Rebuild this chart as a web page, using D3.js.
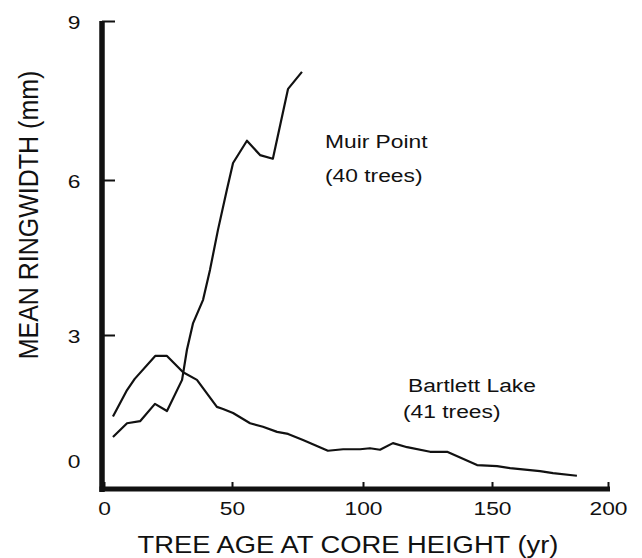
<!DOCTYPE html>
<html>
<head>
<meta charset="utf-8">
<script src="https://cdn.jsdelivr.net/npm/d3@7/dist/d3.min.js"></script>
<style>
  html, body { margin: 0; padding: 0; background: #fff; }
  svg { display: block; }
  text { font-family: "Liberation Sans", Arial, Helvetica, sans-serif; fill: #111; }
</style>
</head>
<body>
<svg id="chart" width="642" height="558"></svg>
<script>
// Mean ring width (mm) against tree age at core height (yr)
const bartlettAge = [3.5, 9, 12, 20, 24.6, 30.9, 36.3, 44.1, 46.5, 50.4, 56.9, 61.8, 67.2, 71.4, 77.1,
  86.6, 92.4, 98.9, 102.7, 106.6, 111.6, 117.1, 126, 132.6, 144.2, 152.2, 157.8, 170.7, 176.3, 186.6];
const bartlettWidth = [1.40, 1.92, 2.14, 2.59, 2.59, 2.27, 2.12, 1.59, 1.55, 1.47, 1.27, 1.20, 1.10, 1.06, 0.94,
  0.73, 0.76, 0.76, 0.78, 0.75, 0.88, 0.80, 0.71, 0.71, 0.45, 0.43, 0.39, 0.33, 0.29, 0.24];

const muirAge = [3.5, 9, 14.1, 19.9, 24.6, 30.5, 32.4, 34.8, 38.7, 41.4, 44.5, 48.0, 50.4, 55.7, 60.7, 65.6, 71.4, 76.7];
const muirWidth = [1.00, 1.27, 1.31, 1.65, 1.51, 2.12, 2.71, 3.23, 3.68, 4.26, 5.03, 5.81, 6.32, 6.74, 6.47, 6.40, 7.72, 8.04];

const xTicks = [0, 50, 100, 150, 200];
const yTicks = [0, 3, 6, 9];

const seriesLabels = [
  ["Muir Point", "(40 trees)"],
  ["Bartlett Lake", "(41 trees)"]
];

const xTitle = "TREE AGE AT CORE HEIGHT (yr)";
const yTitle = "MEAN RINGWIDTH (mm)";

const svg = d3.select("#chart");
const stretch = 1.2; // wide lettering

// Hand-drawn axes: tick spacing is not perfectly even
const x = d3.scaleLinear().domain([0, 50, 100, 150, 200]).range([104, 232, 363, 492, 608]);
const y = d3.scaleLinear().domain([0, 3, 6, 9]).range([488, 335, 180, 21]);

// X axis
const gx = svg.append("g").attr("transform", `translate(0,${y(0) + 1})`)
  .call(d3.axisBottom(x).tickValues(xTicks).tickSizeInner(-7).tickSizeOuter(0).tickPadding(0));
gx.select(".domain").remove();
gx.selectAll(".tick line").attr("stroke", "#111").attr("stroke-width", 2);
gx.selectAll(".tick text")
  .attr("y", 0).attr("dy", 0)
  .attr("transform", `translate(0,26) scale(${stretch},1)`)
  .attr("font-size", 19);

// Y axis
const gy = svg.append("g").attr("transform", `translate(${x(0) - 2},0)`)
  .call(d3.axisLeft(y).tickValues(yTicks).tickSizeInner(-13).tickSizeOuter(0).tickPadding(0));
gy.select(".domain").remove();
gy.selectAll(".tick line").attr("stroke", "#111").attr("stroke-width", 2)
  .filter(d => d === 0).remove();
gy.selectAll(".tick text")
  .attr("x", 0).attr("dy", 0)
  .attr("text-anchor", "middle")
  .attr("transform", d => `translate(-28,${d === 0 ? -21 : 7}) scale(${stretch},1)`)
  .attr("font-size", 19);

// Heavy axis lines
svg.append("line")
  .attr("x1", x(0) - 2).attr("x2", x(0) - 2)
  .attr("y1", y(9)).attr("y2", y(0) + 4)
  .attr("stroke", "#111").attr("stroke-width", 5.5);
svg.append("line")
  .attr("x1", x(0) - 4.5).attr("x2", x(200) + 2)
  .attr("y1", y(0) + 1).attr("y2", y(0) + 1)
  .attr("stroke", "#111").attr("stroke-width", 5);

// Curves
const line = d3.line().x(d => x(d[0])).y(d => y(d[1]));
const series = [
  d3.zip(bartlettAge, bartlettWidth),
  d3.zip(muirAge, muirWidth)
];
svg.selectAll("path.curve").data(series).join("path")
  .attr("class", "curve")
  .attr("d", line)
  .attr("fill", "none")
  .attr("stroke", "#111")
  .attr("stroke-width", 2.2)
  .attr("stroke-linejoin", "round");

// Series labels
const labelPos = [
  [{ x: 325, y: 148 }, { x: 325, y: 182 }],
  [{ x: 408, y: 392 }, { x: 403, y: 418 }]
];
seriesLabels.forEach((lines, i) => {
  lines.forEach((t, j) => {
    svg.append("text")
      .attr("transform", `translate(${labelPos[i][j].x},${labelPos[i][j].y}) scale(${stretch},1)`)
      .attr("font-size", 19)
      .text(t);
  });
});

// Axis titles
svg.append("text")
  .attr("transform", `translate(348,553) scale(1.14,1)`)
  .attr("text-anchor", "middle")
  .attr("font-size", 24)
  .text(xTitle);
svg.append("text")
  .attr("transform", `translate(38,215) rotate(-90) scale(1,1.1)`)
  .attr("text-anchor", "middle")
  .attr("font-size", 25)
  .text(yTitle);
</script>
</body>
</html>
